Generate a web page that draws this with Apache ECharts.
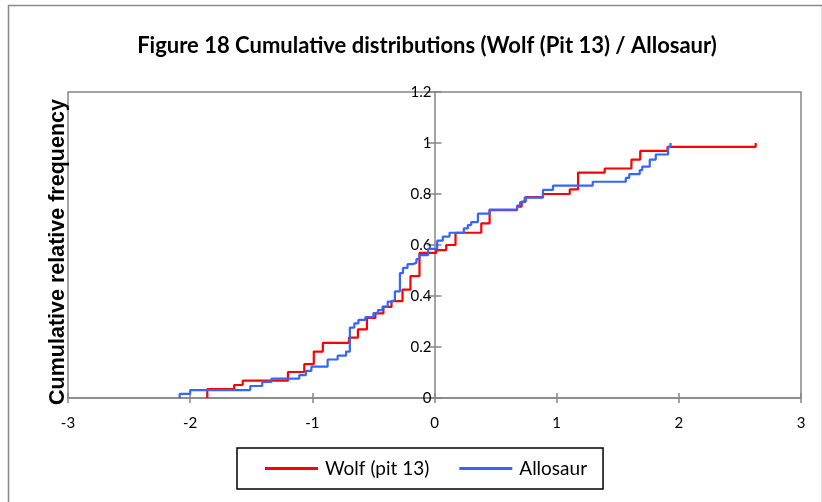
<!DOCTYPE html>
<html><head><meta charset="utf-8">
<script src="https://cdn.jsdelivr.net/npm/echarts@6/dist/echarts.min.js"></script>
<style>html,body{margin:0;padding:0;background:#fff}#c{width:822px;height:502px}</style>
</head><body><div id="c"></div>
<script>
var titleText = "Figure 18 Cumulative distributions (Wolf (Pit 13) / Allosaur)";
var yAxisTitle = "Cumulative relative frequency";
var seriesNames = ["Wolf (pit 13)", "Allosaur"];

var wolfX = [-1.86,-1.86,-1.64,-1.57,-1.20,-1.066,-0.988,-0.914,-0.70,-0.627,-0.553,-0.484,-0.418,-0.352,-0.262,-0.197,-0.123,0.014,0.096,0.172,0.383,0.451,0.676,0.713,0.746,0.888,1.107,1.175,1.393,1.612,1.684,1.907,2.629];
var wolfY = [0,0.035,0.051,0.068,0.102,0.133,0.182,0.216,0.237,0.269,0.314,0.332,0.357,0.38,0.425,0.478,0.569,0.58,0.60,0.648,0.685,0.737,0.75,0.77,0.788,0.80,0.818,0.884,0.90,0.935,0.969,0.985,1.0];

var alloX = [-2.086,-2.086,-2.0,-1.508,-1.41,-1.334,-1.107,-1.052,-1.008,-0.875,-0.793,-0.724,-0.693,-0.656,-0.623,-0.566,-0.50,-0.463,-0.426,-0.383,-0.352,-0.324,-0.283,-0.258,-0.221,-0.18,-0.148,-0.123,-0.053,0.022,0.068,0.123,0.24,0.273,0.30,0.355,0.451,0.676,0.70,0.738,0.888,0.97,1.295,1.566,1.594,1.68,1.70,1.762,1.811,1.912,1.932];
var alloY = [0,0.016,0.031,0.047,0.063,0.076,0.09,0.106,0.123,0.151,0.166,0.182,0.276,0.293,0.306,0.317,0.333,0.345,0.358,0.378,0.384,0.418,0.49,0.51,0.525,0.53,0.545,0.56,0.585,0.617,0.633,0.648,0.665,0.678,0.69,0.723,0.739,0.755,0.768,0.786,0.816,0.833,0.848,0.863,0.878,0.894,0.907,0.935,0.955,0.985,1.0];

var xTicks = [-3,-2,-1,0,1,2,3];
var yTicks = [0,0.2,0.4,0.6,0.8,1,1.2];

function pairs(xs, ys){ return xs.map(function(x,i){ return [x, ys[i]]; }); }

var W = 822, H = 502;
var gLeft = 68, gRight = 21, gTop = 92, gBottom = 104;
var gWidth = W - gLeft - gRight;
var xMin = xTicks[0], xMax = xTicks[xTicks.length-1];
// y axis crosses at x = 0 : shift it inward from the left edge
var yAxisOffset = -gWidth * (0 - xMin) / (xMax - xMin);

var chart = echarts.init(document.getElementById('c'), null, {renderer:'canvas'});
var gridLine = '#868686';
var lblFont = 'Lato';
chart.setOption({
  animation:false,
  backgroundColor:'#fff',
  title:{text:titleText, left:422, top:30, textAlign:'center',
    textStyle:{fontFamily:'Lato', fontWeight:'bold', fontSize:22, color:'#000'}},
  grid:{left:gLeft, right:gRight, top:gTop, bottom:gBottom, show:true, borderColor:gridLine, borderWidth:1.5, containLabel:false},
  legend:{left:237, top:448, orient:'horizontal',
    padding:[11,16,11,28], itemGap:30, itemWidth:53, itemHeight:3, icon:'rect',
    borderColor:'#000', borderWidth:1.5,
    textStyle:{fontFamily:lblFont, fontSize:19, color:'#000', padding:[0,0,0,2]},
    data:seriesNames},
  xAxis:[
    {type:'value', min:xMin, max:xMax, interval:1, position:'bottom',
     axisLine:{show:true, onZero:false, lineStyle:{color:gridLine, width:1.5}},
     axisTick:{show:true, inside:false, length:5, lineStyle:{color:gridLine, width:1.5}},
     axisLabel:{margin:18, fontFamily:lblFont, fontSize:15, color:'#000'},
     splitLine:{show:false}},
    {type:'value', min:xMin, max:xMax, interval:1, position:'bottom',
     axisLine:{show:false, onZero:false},
     axisTick:{show:true, inside:true, length:5, lineStyle:{color:gridLine, width:1.5}},
     axisLabel:{show:false}, splitLine:{show:false}}
  ],
  yAxis:[
    {type:'value', min:yTicks[0], max:yTicks[yTicks.length-1], interval:0.2, position:'left', offset:yAxisOffset,
     axisLine:{show:true, onZero:false, lineStyle:{color:gridLine, width:1.5}},
     axisTick:{show:true, inside:false, length:7, lineStyle:{color:gridLine, width:1.5}},
     axisLabel:{margin:3, fontFamily:lblFont, fontSize:15, color:'#000',
       formatter:function(v){ return String(Math.round(v*10)/10); }},
     splitLine:{show:false}},
    {type:'value', min:yTicks[0], max:yTicks[yTicks.length-1], interval:0.2, position:'left', offset:yAxisOffset,
     axisLine:{show:false, onZero:false},
     axisTick:{show:true, inside:true, length:7, lineStyle:{color:gridLine, width:1.5}},
     axisLabel:{show:false}, splitLine:{show:false}}
  ],
  graphic:[
    {type:'rect', left:6, top:3, shape:{width:814, height:510}, style:{fill:'none', stroke:'#888', lineWidth:1.5}, silent:true},
    {type:'text', x:58, y:252, rotation:Math.PI/2, style:{text:yAxisTitle, fontFamily:'Liberation Sans', fontWeight:'bold', fontSize:21.5, fill:'#000', textAlign:'center', textVerticalAlign:'middle'}}
  ],
  series:[
    {name:seriesNames[0], type:'line', step:'end', symbol:'none', data:pairs(wolfX, wolfY),
     lineStyle:{color:'#FF0000', width:2.2}, itemStyle:{color:'#FF0000'}, z:2},
    {name:seriesNames[1], type:'line', step:'end', symbol:'none', data:pairs(alloX, alloY),
     lineStyle:{color:'#3366FF', width:2.2}, itemStyle:{color:'#3366FF'}, z:3}
  ]
});
</script></body></html>
